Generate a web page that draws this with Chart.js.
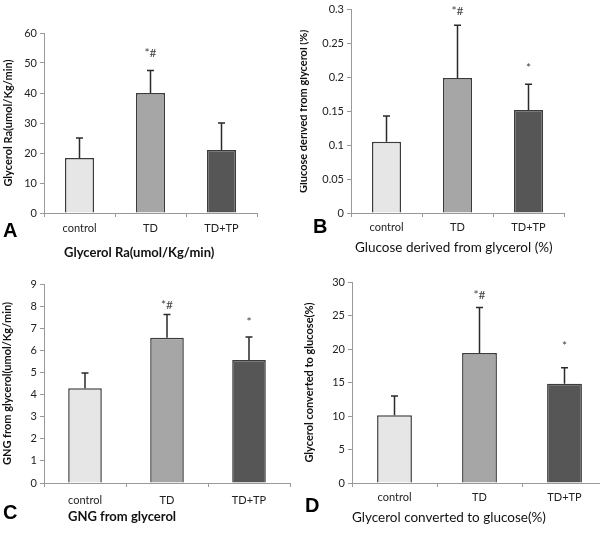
<!DOCTYPE html>
<html><head><meta charset="utf-8">
<script src="https://cdn.jsdelivr.net/npm/chart.js@4/dist/chart.umd.min.js"></script>
<style>
html,body{margin:0;padding:0;background:#fff;}
body{width:600px;height:533px;overflow:hidden;position:relative;}
canvas{position:absolute;}
.t{position:absolute;white-space:nowrap;font-family:Lato,"Open Sans",sans-serif;font-size:13.5px;line-height:15px;color:#111;}
.L{position:absolute;font-family:"Liberation Sans",Arial,sans-serif;font-weight:bold;font-size:20px;line-height:20px;color:#000;}
</style></head>
<body>
<canvas id="cA" width="300" height="260" style="left:0;top:0"></canvas>
<canvas id="cB" width="300" height="260" style="left:300px;top:0"></canvas>
<canvas id="cC" width="300" height="273" style="left:0;top:260px"></canvas>
<canvas id="cD" width="310" height="273" style="left:300px;top:260px"></canvas>

<div class="L" style="left:3px;top:220px">A</div>
<div class="t" style="left:64px;top:245px;font-weight:bold;font-size:13px">Glycerol Ra(umol/Kg/min)</div>
<div class="L" style="left:313px;top:216px">B</div>
<div class="t" style="left:355px;top:240px">Glucose derived from glycerol (%)</div>
<div class="L" style="left:3px;top:502px">C</div>
<div class="t" style="left:68px;top:509px;font-weight:bold;font-size:13px">GNG from glycerol</div>
<div class="L" style="left:305px;top:495px">D</div>
<div class="t" style="left:352px;top:510px">Glycerol converted to glucose(%)</div>

<script>
// ---- data ----
const categories = ["control", "TD", "TD+TP"];

const glycerolRa      = [18.3, 40.0, 21.0];
const glycerolRaErr   = [6.7, 7.5, 9.0];
const glycerolRaMarks = ["", "*#", ""];
const glycerolRaMarkAt = [null, 51.9, null];

const glucoseFromGly      = [0.105, 0.199, 0.152];
const glucoseFromGlyErr   = [0.038, 0.078, 0.038];
const glucoseFromGlyMarks = ["", "*#", "*"];
const glucoseFromGlyMarkAt = [null, 0.2915, 0.2087];

const gngFromGly      = [4.28, 6.57, 5.56];
const gngFromGlyErr   = [0.69, 1.05, 1.04];
const gngFromGlyMarks = ["", "*#", "*"];
const gngFromGlyMarkAt = [null, 7.86, 7.12];

const glyToGlucose      = [10.1, 19.4, 14.8];
const glyToGlucoseErr   = [2.9, 6.8, 2.4];
const glyToGlucoseMarks = ["", "*#", "*"];
const glyToGlucoseMarkAt = [null, 27.4, 19.9];

const barColors = ["#e6e6e6", "#a6a6a6", "#565656"];

// ---- error bars + significance marks ----
const errorBars = {
  id: 'errorBars',
  afterDatasetsDraw(chart, args, o) {
    const ctx = chart.ctx, ys = chart.scales.y;
    const meta = chart.getDatasetMeta(0);
    const vals = chart.data.datasets[0].data;
    ctx.save();
    meta.data.forEach((bar, i) => {
      const top = ys.getPixelForValue(vals[i] + o.errors[i]);
      const x = bar.x;
      ctx.strokeStyle = '#2a2a2a';
      ctx.lineWidth = 1.5;
      ctx.beginPath();
      ctx.moveTo(x, bar.y); ctx.lineTo(x, top);
      ctx.moveTo(x - 3.5, top); ctx.lineTo(x + 3.5, top);
      ctx.stroke();
      if (o.marks[i]) {
        ctx.fillStyle = '#444';
        ctx.font = '12px Lato, sans-serif';
        ctx.textAlign = 'center';
        ctx.textBaseline = 'alphabetic';
        ctx.fillText(o.marks[i], x, ys.getPixelForValue(o.markAt[i]));
      }
    });
    ctx.restore();
  }
};

function makeChart(id, cfg) {
  const tickFont = {family: 'Lato, sans-serif', size: 11};
  return new Chart(document.getElementById(id), {
    type: 'bar',
    data: {
      labels: categories,
      datasets: [{
        data: cfg.values,
        backgroundColor: barColors,
        borderColor: '#3c3c3c',
        borderWidth: 1.5,
        categoryPercentage: 1,
        barPercentage: 0.41
      }]
    },
    plugins: [errorBars],
    options: {
      responsive: false,
      animation: false,
      events: [],
      layout: {padding: {left: 0, top: cfg.padTop, right: cfg.padRight, bottom: 0}},
      plugins: {
        legend: {display: false},
        tooltip: {enabled: false},
        errorBars: {errors: cfg.errors, marks: cfg.marks, markAt: cfg.markAt}
      },
      scales: {
        x: {
          offset: true,
          grid: {display: true, offset: true, drawOnChartArea: false, drawTicks: true, tickLength: 4, color: '#999'},
          border: {display: true, color: '#999', width: 1},
          ticks: {font: tickFont, color: '#222', padding: cfg.xPad, maxRotation: 0},
          afterFit(s) { s.height = cfg.xHeight; }
        },
        y: {
          min: 0, max: cfg.max,
          grid: {display: true, drawOnChartArea: false, drawTicks: true, tickLength: 4, color: '#999'},
          border: {display: true, color: '#999', width: 1},
          ticks: {stepSize: cfg.step, font: tickFont, color: '#222', padding: 3,
                  callback: v => String(+Number(v).toFixed(2))},
          title: {display: true, text: cfg.yTitle, color: '#111',
                  font: {family: 'Lato, sans-serif', size: 11, weight: 'bold'},
                  padding: {top: cfg.titlePad, bottom: 0}},
          afterFit(s) { s.width = cfg.yWidth; }
        }
      }
    }
  });
}

makeChart('cA', {values: glycerolRa, errors: glycerolRaErr, marks: glycerolRaMarks, markAt: glycerolRaMarkAt,
  max: 60, step: 10, yTitle: 'Glycerol Ra(umol/Kg/min)',
  padTop: 33, padRight: 43, yWidth: 44, xHeight: 47, xPad: 5, titlePad: 2});

makeChart('cB', {values: glucoseFromGly, errors: glucoseFromGlyErr, marks: glucoseFromGlyMarks, markAt: glucoseFromGlyMarkAt,
  max: 0.3, step: 0.05, yTitle: 'Glucose derived from glycerol (%)',
  padTop: 5, padRight: 36, yWidth: 51, xHeight: 47, xPad: 4, titlePad: -3});

makeChart('cC', {values: gngFromGly, errors: gngFromGlyErr, marks: gngFromGlyMarks, markAt: gngFromGlyMarkAt,
  max: 9, step: 1, yTitle: 'GNG from glycerol(umol/Kg/min)',
  padTop: 24, padRight: 10, yWidth: 44, xHeight: 50, xPad: 7, titlePad: 1});

makeChart('cD', {values: glyToGlucose, errors: glyToGlucoseErr, marks: glyToGlucoseMarks, markAt: glyToGlucoseMarkAt,
  max: 30, step: 5, yTitle: 'Glycerol converted to glucose(%)',
  padTop: 22, padRight: 3, yWidth: 52, xHeight: 50, xPad: 4, titlePad: 3});
</script>
</body></html>
